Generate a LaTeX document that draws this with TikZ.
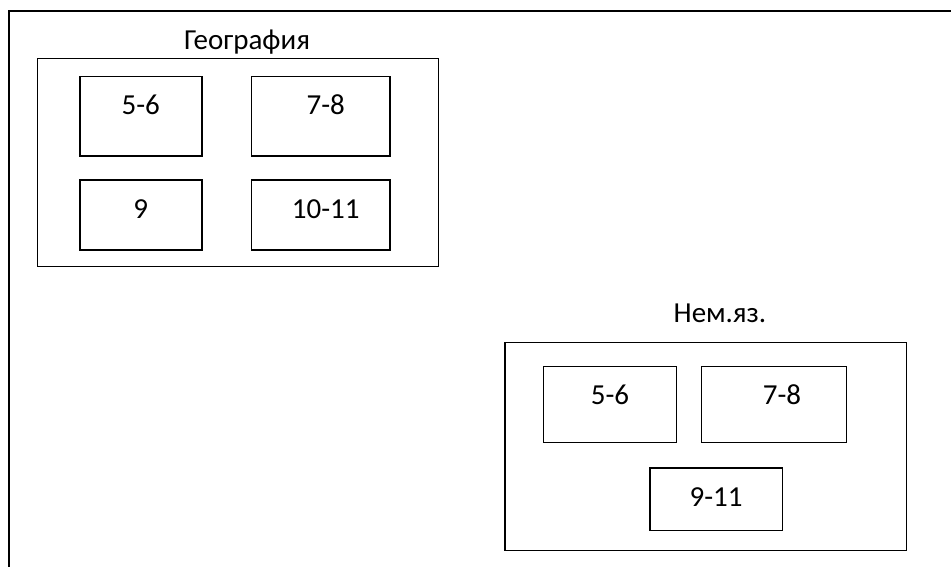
\documentclass[tikz,border=0pt]{standalone}
\usepackage{fontspec}
\setmainfont{Carlito}
\usepackage{tikz}
\usetikzlibrary{positioning}

\begin{document}
\begin{tikzpicture}[
    x=1pt, y=-1pt,
    every node/.style={font=\fontsize{29}{33}\selectfont},
    frame/.style={draw, line width=2pt},
    group/.style={draw, line width=1.5pt, anchor=north west, inner sep=0pt},
    grade/.style={draw, line width=1.5pt, anchor=north west, inner sep=0pt},
    num/.style={anchor=base, inner sep=0pt}
]
\useasboundingbox (0,0) rectangle (951,566);
\clip (0,0) rectangle (951,566);
\draw[frame] (9,11) rectangle (980,600);

% Geography
\node[group, minimum width=401pt, minimum height=208pt] (geo) at (36.7,57.7) {};
\node[num] (geotitle) at (247,49.3) {География};
\node[grade, minimum width=122pt, minimum height=79.6pt] (geoA) at (79,75.7) {};
\node[grade, minimum width=138.6pt, minimum height=79.6pt] (geoB) at (250.7,75.7) {};
\node[grade, minimum width=122pt, minimum height=69.7pt] (geoC) at (79,179.3) {};
\node[grade, minimum width=138.6pt, minimum height=69.7pt] (geoD) at (250.7,179.3) {};
\node[num] (geoAt) at ([yshift=-38.6pt]geoA.north) {5-6};
\node[num, xshift=5pt] (geoBt) at ([yshift=-38.6pt]geoB.north) {7-8};
\node[num] (geoCt) at ([yshift=-39pt]geoC.north) {9};
\node[num, xshift=5pt] (geoDt) at ([yshift=-39pt]geoD.north) {10-11};

% German
\node[group, minimum width=401.4pt, minimum height=208pt] (ger) at (504.3,341.7) {};
\node[num] (gertitle) at (720,322.3) {Нем.яз.};
\node[grade, minimum width=133pt, minimum height=76pt] (gerA) at (542.7,365.7) {};
\node[grade, minimum width=145pt, minimum height=76pt] (gerB) at (700.7,365.7) {};
\node[grade, minimum width=132.7pt, minimum height=62.4pt] (gerC) at (649,467.3) {};
\node[num] (gerAt) at ([yshift=-38.6pt]gerA.north) {5-6};
\node[num, xshift=8pt] (gerBt) at ([yshift=-38.6pt]gerB.north) {7-8};
\node[num] (gerCt) at ([yshift=-38.7pt]gerC.north) {9-11};

\end{tikzpicture}
\end{document}
